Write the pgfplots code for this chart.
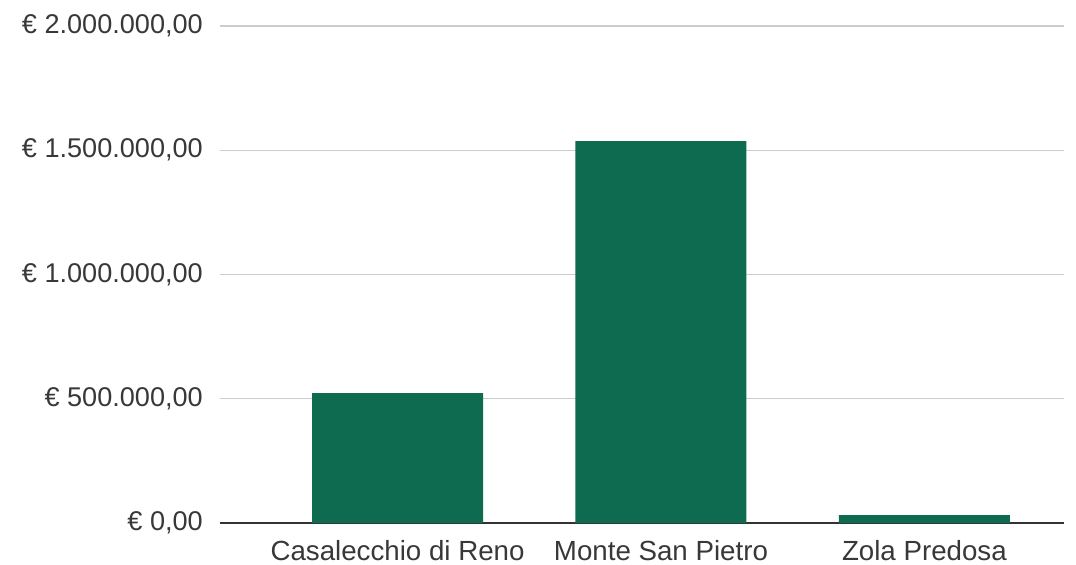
\documentclass[border=0pt]{standalone}
\usepackage{pgfplots}
\pgfplotsset{compat=1.18}
\usepackage{fontspec}
\setmainfont{Liberation Sans}
\definecolor{barcol}{HTML}{0F6B50}
\definecolor{txt}{HTML}{383838}
\definecolor{gridc}{HTML}{CCCCCC}
\definecolor{basec}{HTML}{333333}
\begin{document}
\fontsize{27}{30}\selectfont
\begin{tikzpicture}
\begin{axis}[
  scale only axis,
  width=844bp, height=497bp,
  xmin=-0.674, xmax=2.53,
  ymin=0, ymax=2000000,
  ybar, bar width=0.649,
  xtick={0,1,2},
  xticklabels={Casalecchio di Reno, Monte San Pietro, Zola Predosa},
  ytick={0,500000,1000000,1500000,2000000},
  yticklabels={€ 0{,}00, € 500.000{,}00, € 1.000.000{,}00, € 1.500.000{,}00, € 2.000.000{,}00},
  scaled y ticks=false,
  ymajorgrids, grid style={gridc, line width=1.2bp},
  extra y ticks={0}, extra y tick labels={},
  extra y tick style={grid style={basec, line width=1.8bp}},
  major tick length=0pt,
  axis line style={draw=none},
  yticklabel style={font=\fontsize{27.2}{30}\selectfont, text=txt, anchor=east, inner sep=0pt, xshift=-17bp},
  xticklabel style={font=\fontsize{27.8}{30}\selectfont, text=txt, anchor=north, inner sep=0pt, yshift=-17bp},
]
\addplot[fill=barcol, draw=none] coordinates {(0,523000) (1,1537000) (2,32000)};
\end{axis}
\path ([shift={(-220bp,-42bp)}]current axis.south west) rectangle ([shift={(12bp,26bp)}]current axis.north east);
\end{tikzpicture}
\end{document}
